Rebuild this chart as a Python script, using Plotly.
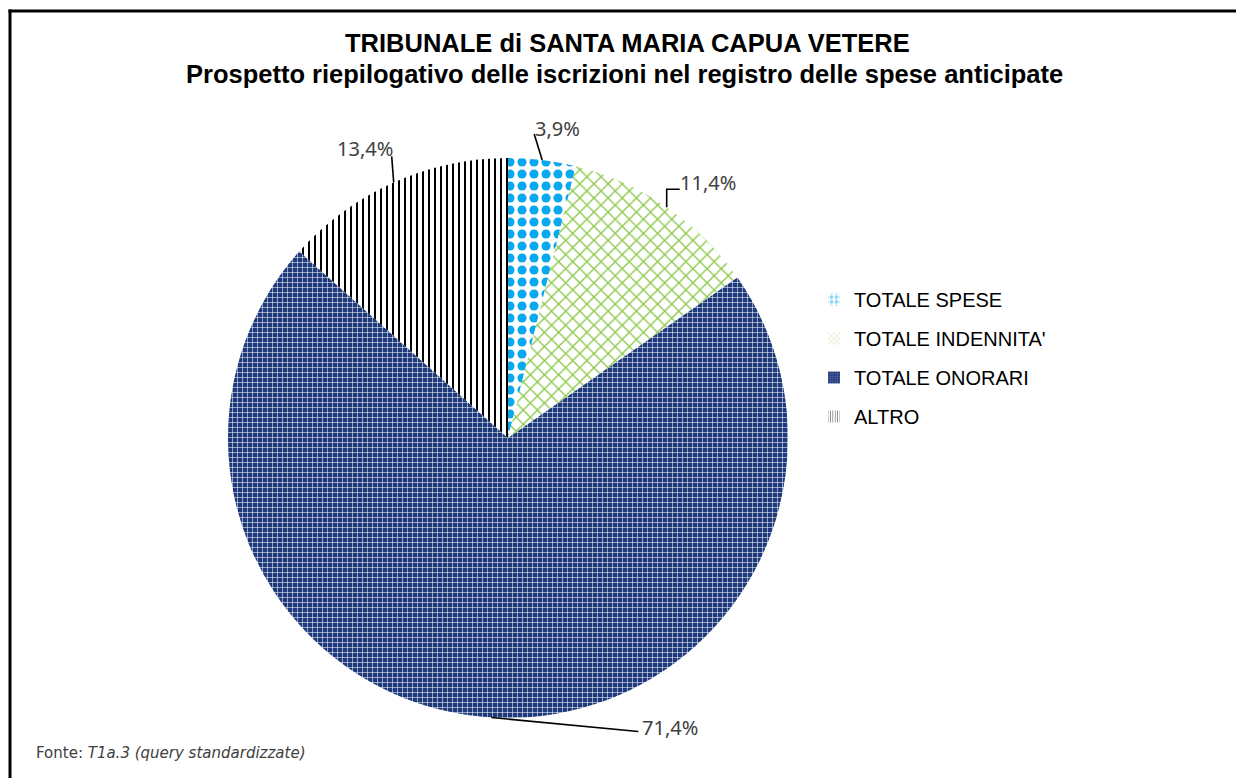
import math
import plotly.graph_objects as go

# ---- data ----
categories = ["TOTALE SPESE", "TOTALE INDENNITA'", "TOTALE ONORARI", "ALTRO"]
percent_values = [3.9, 11.4, 71.4, 13.4]
title_line1 = "TRIBUNALE di SANTA MARIA CAPUA VETERE"
title_line2 = "Prospetto riepilogativo delle iscrizioni nel registro delle spese anticipate"
source_note = "Fonte: <i>T1a.3 (query standardizzate)</i>"

# ---- styles ----
W, H = 1236, 778
CX, CY, R = 508, 438, 280  # pie centre / radius in pixels

bg_colors = ["white", "white", "#1f3a7c", "white"]
patterns = [
    dict(shape=".", fgcolor="#0aa8ec", bgcolor="white", size=12, solidity=0.45),
    dict(shape="x", fgcolor="#8cc94a", bgcolor="white", size=10, solidity=0.25),
    dict(shape="+", fgcolor="white", bgcolor="#1f3a7c", size=5, solidity=0.2),
    dict(shape="|", fgcolor="black", bgcolor="white", size=6, solidity=0.33),
]
# label text offsets and leader line paths (pixels relative to slice edge mid-point)
text_offsets = [(15, -32), (41, -25), (179, 10), (-29, -34)]
line_paths = [
    [(-8, -26)],
    [(0, -18), (13, -18)],
    [(147, 14)],
    [(-2, -26)],
]


def px(x):
    return x / W


def py(y):
    return 1 - y / H


fig = go.Figure()

fig.add_trace(go.Pie(
    labels=categories,
    values=percent_values,
    sort=False,
    direction="clockwise",
    rotation=0,
    textinfo="none",
    hoverinfo="label+percent",
    showlegend=False,
    domain=dict(x=[px(CX - R), px(CX + R)], y=[py(CY + R), py(CY - R)]),
    marker=dict(
        colors=bg_colors,
        line=dict(width=0),
        pattern=dict(
            shape=[p["shape"] for p in patterns],
            fgcolor=[p["fgcolor"] for p in patterns],
            bgcolor=[p["bgcolor"] for p in patterns],
            size=[p["size"] for p in patterns],
            solidity=[p["solidity"] for p in patterns],
        ),
    ),
))

# legend entries (legend-only bar traces so the spacing can be controlled)
for i, cat in enumerate(categories):
    p = patterns[i]
    fig.add_trace(go.Bar(
        x=[None], y=[None], name=cat, legendgroup=f"g{i}",
        marker=dict(color=bg_colors[i], line=dict(width=0),
                    pattern=dict(shape=p["shape"], fgcolor=p["fgcolor"],
                                 bgcolor=p["bgcolor"], size=max(3, p["size"] // 2),
                                 solidity=p["solidity"])),
        showlegend=True,
    ))

# labels and leader lines computed from the data
total = sum(percent_values)
cum = 0.0
shapes = []
annotations = []
for i, v in enumerate(percent_values):
    mid = (cum + v / 2) / total
    cum += v
    th = 2 * math.pi * mid
    ex = CX + R * math.sin(th)
    ey = CY - R * math.cos(th)
    pts = [(ex, ey)] + [(ex + dx, ey + dy) for dx, dy in line_paths[i]]
    path = "M " + " L ".join(f"{px(x):.5f},{py(y):.5f}" for x, y in pts)
    shapes.append(dict(type="path", xref="paper", yref="paper", path=path,
                       line=dict(color="black", width=1.6)))
    tx, ty = ex + text_offsets[i][0], ey + text_offsets[i][1]
    label = f"{v:.1f}".replace(".", ",") + "%"
    annotations.append(dict(x=px(tx), y=py(ty), xref="paper", yref="paper",
                            text=label, showarrow=False, xanchor="center", yanchor="middle",
                            font=dict(family="Noto Sans", size=20, color="#404040")))

# title
annotations.append(dict(x=px(627), y=py(43), xref="paper", yref="paper",
                        text=f"<b>{title_line1}</b>", showarrow=False,
                        xanchor="center", yanchor="middle",
                        font=dict(family="Liberation Sans", size=25.5, color="black")))
annotations.append(dict(x=px(624), y=py(74), xref="paper", yref="paper",
                        text=f"<b>{title_line2}</b>", showarrow=False,
                        xanchor="center", yanchor="middle",
                        font=dict(family="Liberation Sans", size=25.5, color="black")))
# source
annotations.append(dict(x=px(34), y=py(753), xref="paper", yref="paper",
                        text=source_note, showarrow=False,
                        xanchor="left", yanchor="middle",
                        font=dict(family="DejaVu Sans", size=15, color="#404040")))

# outer frame (left and top edges visible in the crop)
shapes.append(dict(type="line", xref="paper", yref="paper",
                   x0=px(10), x1=px(10), y0=0, y1=py(9.5),
                   line=dict(color="black", width=3)))
shapes.append(dict(type="line", xref="paper", yref="paper",
                   x0=px(8.5), x1=1, y0=py(11), y1=py(11),
                   line=dict(color="black", width=3)))

fig.update_layout(
    width=W, height=H,
    margin=dict(l=0, r=0, t=0, b=0),
    paper_bgcolor="white", plot_bgcolor="white",
    xaxis=dict(visible=False), yaxis=dict(visible=False),
    shapes=shapes, annotations=annotations,
    legend=dict(x=px(814), y=py(280), xanchor="left", yanchor="top",
                font=dict(family="Liberation Sans", size=20, color="black"),
                tracegroupgap=10, bgcolor="rgba(0,0,0,0)", itemclick=False),
)

fig.write_html(
    "out.html",
    config={"displayModeBar": False},
    post_script="document.body.style.margin='0';document.body.style.overflow='hidden';",
)
